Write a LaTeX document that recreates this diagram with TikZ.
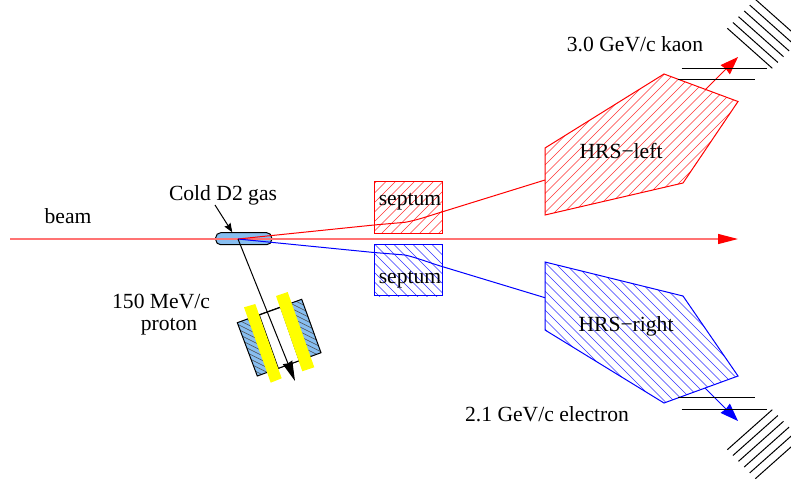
\documentclass[tikz,border=0pt]{standalone}
\usepackage{fontspec}
\setmainfont{Liberation Serif}
\usetikzlibrary{arrows.meta,positioning}
\definecolor{gasblue}{RGB}{135,190,240}
\definecolor{armyellow}{RGB}{255,255,0}
\definecolor{beamred}{RGB}{255,115,115}
\tikzset{
  septumbox/.style={draw=#1,line width=1pt,minimum width=68.4pt,minimum height=51.3pt,inner sep=0pt},
  track/.style={draw=#1,line width=1pt},
  trackout/.style={draw=#1,line width=1pt,-{Stealth[length=18pt,width=13pt,inset=1pt]}},
  wire/.style={line width=1pt},
}
\newcommand{\hatchfill}[4]{%
  \begin{scope}
    \clip #1;
    \foreach \k in {-1000,-990.5,...,1800} {
      \draw[#2,line width=.6pt] (\k,0) -- ++(#3*480,480*#4);
    }
  \end{scope}
}
\newcommand{\chamber}[2]{%
  \foreach \k in {0,...,5} {
    \draw[wire] (727.3+5.6*\k,#1-#2*5.8*\k) -- ++(45,#2*40);
  }
}
\begin{document}
\begin{tikzpicture}[x=1pt,y=-1pt,every node/.style={font=\fontsize{21.6}{24}\selectfont}]
  \useasboundingbox (0,0) rectangle (791,480);
  \clip (0,0) rectangle (791,480);
  % spectrometers
  \hatchfill{(545,148) -- (664,74) -- (738,101.5) -- (683,183) -- (545,215) -- cycle}{red!80}{-1}{1}
  \draw[red,line width=1pt] (545,148) -- (664,74) -- (738,101.5) -- (683,183) -- (545,215) -- cycle;
  \hatchfill{(545,262) -- (683,296) -- (738,376) -- (664,403) -- (545,330) -- cycle}{blue!80}{1}{1}
  \draw[blue,line width=1pt] (545,262) -- (683,296) -- (738,376) -- (664,403) -- (545,330) -- cycle;
  \node (hrsl) at (621,151) {HRS−left};
  \node (hrsr) at (626,326) {HRS−right};
  % septa
  \hatchfill{(374.3,182) rectangle (442.7,233.3)}{red!80}{-1}{1}
  \hatchfill{(374.3,244.7) rectangle (442.7,296)}{blue!80}{1}{1}
  \node[septumbox=red] (sepl) at (408.5,207.6) {};
  \node[septumbox=blue] (sepr) at (408.5,270.3) {};
  \node (sepltxt) at (410,202) {septum};
  \node (seprtxt) at (410,280) {septum};
  % proton arm
  \fill[gasblue] (237.3,322.7) -- (301.7,299.3) -- (321,352.7) -- (257.3,376) -- cycle;
  \hatchfill{(237.3,322.7) -- (301.7,299.3) -- (321,352.7) -- (257.3,376) -- cycle}{black!70}{2}{1}
  \draw[wire] (237.3,322.7) -- (301.7,299.3) -- (321,352.7) -- (257.3,376) -- cycle;
  \draw[wire,fill=white] (259.3,315) -- (280.7,307.3) -- (299.3,360.7) -- (278.3,368.3) -- cycle;
  \fill[armyellow] (244,307.3) -- (255.3,304) -- (281.7,378.3) -- (270.7,382.7) -- cycle;
  \fill[armyellow] (276,296) -- (287.7,292) -- (314.3,367.3) -- (302.3,371.3) -- cycle;
  % target and beam
  \node[draw,line width=1pt,fill=gasblue,rounded corners=5pt,minimum width=56pt,minimum height=12pt,inner sep=0pt] (target) at (243.7,238.7) {};
  \coordinate (vtx) at (238,239);
  \coordinate (beamin) at (10,239);
  \coordinate (beamout) at (738,239);
  \draw[beamred,line width=1.2pt,-{Stealth[length=20pt,width=10pt,inset=0pt,color=red,fill=red]}] (beamin) -- (beamout);
  % tracks
  \coordinate (redtip) at (738,57);
  \coordinate (redexit) at (705,90);
  \coordinate (bluetip) at (738,421);
  \coordinate (blueexit) at (705,388);
  \draw[track=red] (vtx) -- (374,225) -- (405,222.3) .. controls (418,220) and (430,215.5) .. (442.7,211.7) -- (545,180);
  \draw[track=blue] (vtx) -- (374,252.5) -- (405,255) .. controls (418,258) and (430,263) .. (442.7,266.7) -- (545,297.7);
  \draw[trackout=red] (redexit) -- (redtip);
  \draw[trackout=blue] (blueexit) -- (bluetip);
  \coordinate (prtip) at (295,381);
  \draw[wire,-{Stealth[length=20pt,width=10pt,inset=1pt]}] (vtx) -- (prtip);
  % chambers
  \chamber{28.3}{1}
  \chamber{449.7}{-1}
  \draw[wire] (681.5,68.3) -- (767,68.3);
  \draw[wire] (678,79.7) -- (755,79.7);
  \draw[wire] (678,397.7) -- (755,397.7);
  \draw[wire] (681.5,409.3) -- (767,409.3);
  % labels
  \node (beamlab) at (68,216) {beam};
  \node (gaslab) at (223,195) {Cold D2 gas};
  \coordinate (gasfrom) at (215,205);
  \draw[wire,-{Stealth[length=9pt,width=7pt,inset=1pt]}] (gasfrom) -- (232.3,232.3);
  \node[anchor=east] (momlab) at (213.5,301) {150 MeV/c};
  \node (prlab) at (169,327) {proton};
  \node (kaonlab) at (635,44) {3.0 GeV/c kaon};
  \node (ellab) at (547,414) {2.1 GeV/c electron};
\end{tikzpicture}
\end{document}
